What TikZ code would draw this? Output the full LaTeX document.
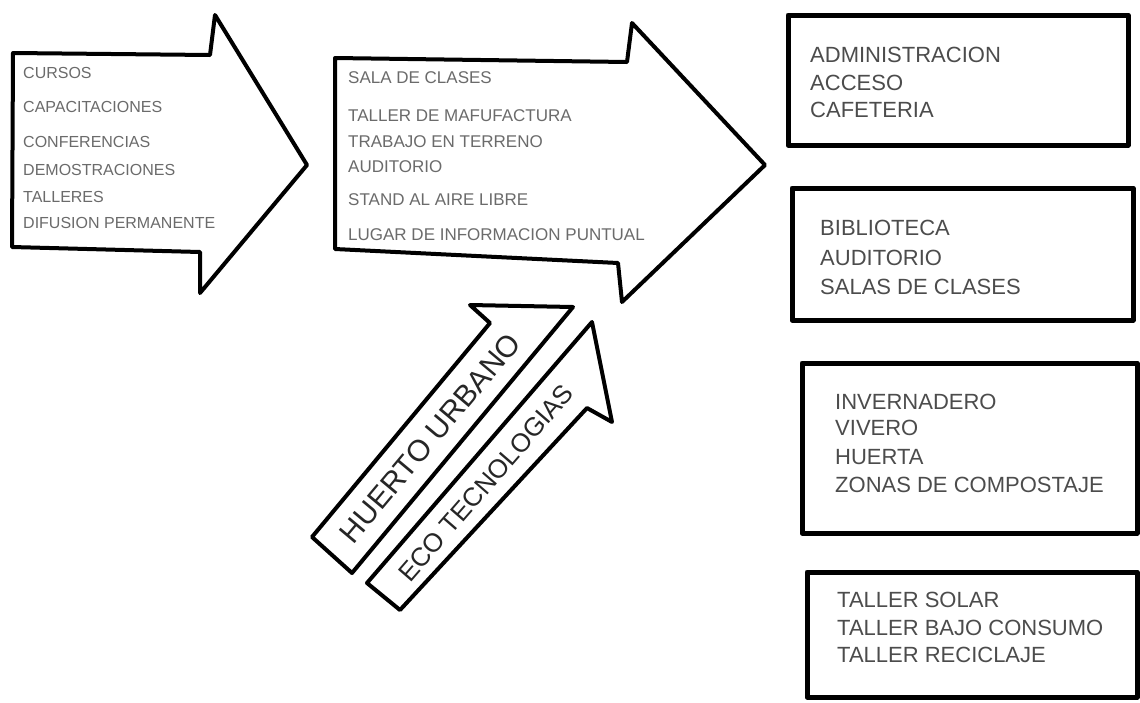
\documentclass[tikz,border=0pt]{standalone}
\usepackage{fontspec}
\setmainfont{Liberation Sans}
\usepackage{tikz}
\definecolor{lapiz}{gray}{0.42}
\definecolor{plumon}{gray}{0.30}
\tikzset{
	flecha/.style={draw=black, line width=4pt, line join=round, fill=white},
	caja/.style={draw=black, line width=5pt, line join=round, line cap=round},
	itemuno/.style={anchor=west, text=lapiz, inner sep=0pt, font=\fontsize{16}{16}\selectfont},
	itemdos/.style={anchor=west, text=lapiz, inner sep=0pt, font=\fontsize{17}{17}\selectfont},
	itemcaja/.style={anchor=west, text=plumon, inner sep=0pt, font=\fontsize{22}{22}\selectfont},
	rotulo/.style={inner sep=0pt, text=black!85},
}
\begin{document}
\begin{tikzpicture}[x=1pt, y=-1pt]
			\useasboundingbox (0,0) rectangle (1140,702);
			\fill[white] (0,0) rectangle (1140,702);
			\draw[flecha] (13,53) -- (210,55) -- (215,15) -- (307,165) -- (200,293) -- (200,252) -- (12,247) -- cycle;
			\node[itemuno] (cursos) at (23,73) {CURSOS};
			\node[itemuno] (capac) at (23,107) {CAPACITACIONES};
			\node[itemuno] (confer) at (23,142) {CONFERENCIAS};
			\node[itemuno] (demos) at (23,170) {DEMOSTRACIONES};
			\node[itemuno] (talleres) at (23,197) {TALLERES};
			\node[itemuno] (difusion) at (23,223) {DIFUSION PERMANENTE};
			\draw[flecha] (335,58) -- (627,62) -- (632,23) -- (765,165) -- (622,302) -- (618,263) -- (335,249) -- cycle;
			\node[itemdos] (sala) at (348,78) {SALA DE CLASES};
			\node[itemdos] (manuf) at (348,116) {TALLER DE MAFUFACTURA};
			\node[itemdos] (terreno) at (348,142) {TRABAJO EN TERRENO};
			\node[itemdos] (audit) at (348,167) {AUDITORIO};
			\node[itemdos] (stand) at (348,200) {STAND AL AIRE LIBRE};
			\node[itemdos] (lugar) at (348,235) {LUGAR DE INFORMACION PUNTUAL};
			\draw[flecha] (352,573) -- (312,537) -- (490,323) -- (470,305) -- (573,307) -- cycle;
			\node[rotulo, rotate=50, font=\fontsize{30}{30}\selectfont] (huerto) at (430,438) {HUERTO URBANO};
			\draw[flecha] (367,583) -- (592,322) -- (612,422) -- (587,408) -- (400,610) -- cycle;
			\node[rotulo, rotate=49, font=\fontsize{26}{26}\selectfont] (eco) at (486,483) {ECO TECNOLOGIAS};
			\draw[caja] (788,15) rectangle (1128,145);
			\node[itemcaja] (admin) at (810,55) {ADMINISTRACION};
			\node[itemcaja] (acceso) at (810,83) {ACCESO};
			\node[itemcaja] (cafe) at (810,110) {CAFETERIA};
			\draw[caja] (792,188) rectangle (1133,320);
			\node[itemcaja] (biblio) at (820,228) {BIBLIOTECA};
			\node[itemcaja] (auditorio) at (820,258) {AUDITORIO};
			\node[itemcaja] (salas) at (820,287) {SALAS DE CLASES};
			\draw[caja] (802,363) rectangle (1137,533);
			\node[itemcaja] (inver) at (835,402) {INVERNADERO};
			\node[itemcaja] (vivero) at (835,428) {VIVERO};
			\node[itemcaja] (huerta) at (835,457) {HUERTA};
			\node[itemcaja] (zonas) at (835,485) {ZONAS DE COMPOSTAJE};
			\draw[caja] (807,572) rectangle (1137,697);
			\node[itemcaja] (solar) at (837,600) {TALLER SOLAR};
			\node[itemcaja] (bajo) at (837,628) {TALLER BAJO CONSUMO};
			\node[itemcaja] (recic) at (837,655) {TALLER RECICLAJE};
		\end{tikzpicture}
\end{document}
